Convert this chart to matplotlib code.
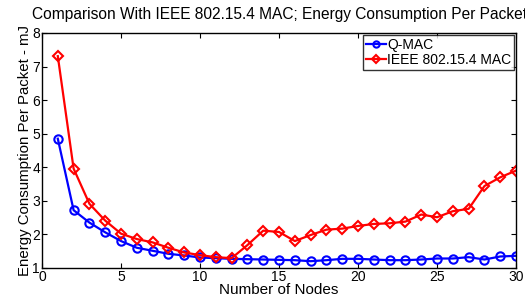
import matplotlib
matplotlib.use("Agg")
import matplotlib.pyplot as plt

nodes = list(range(1, 31))
qmac = [4.85, 2.72, 2.35, 2.06, 1.80, 1.60, 1.51, 1.42, 1.37, 1.31,
        1.29, 1.27, 1.26, 1.25, 1.24, 1.23, 1.20, 1.23, 1.27, 1.27,
        1.25, 1.23, 1.23, 1.25, 1.28, 1.28, 1.32, 1.25, 1.34, 1.36]
ieee = [7.31, 3.96, 2.91, 2.41, 2.02, 1.86, 1.76, 1.60, 1.46, 1.38,
        1.32, 1.29, 1.68, 2.11, 2.07, 1.80, 1.98, 2.14, 2.17, 2.25,
        2.31, 2.33, 2.38, 2.59, 2.51, 2.69, 2.76, 3.44, 3.70, 3.90]

plt.rcParams['font.family'] = ['Liberation Sans', 'DejaVu Sans']

fig = plt.figure(figsize=(5.25, 3.0), dpi=100)
ax = fig.add_axes([0.080, 0.107, 0.903, 0.783])

ax.plot(nodes, qmac, color='blue', marker='o', markersize=6, markerfacecolor='none',
        markeredgewidth=1.5, linewidth=1.6, label='Q-MAC')
ax.plot(nodes, ieee, color='red', marker='D', markersize=5.5, markerfacecolor='none',
        markeredgewidth=1.5, linewidth=1.6, label='IEEE 802.15.4 MAC')

ax.set_xlim(0, 30)
ax.set_ylim(1, 8)
ax.set_xticks([0, 5, 10, 15, 20, 25, 30])
ax.set_yticks([1, 2, 3, 4, 5, 6, 7, 8])
ax.tick_params(direction='in', top=True, right=True, labelsize=10, length=3.5, pad=1.5)
for s in ax.spines.values():
    s.set_linewidth(1.0)

ax.set_xlabel('Number of Nodes', fontsize=11, labelpad=-1)
ax.set_ylabel('Energy Consumption Per Packet - mJ', fontsize=10.8, labelpad=0)
fig.text(32 / 525, 1 - 19 / 300,
         'Comparison With IEEE 802.15.4 MAC; Energy Consumption Per Packet - mJ',
         fontsize=11.2, ha='left', va='baseline')

leg = ax.legend(loc='upper right', fontsize=10, frameon=True, fancybox=False,
                edgecolor='black', borderpad=0.2, labelspacing=0.1,
                handlelength=1.4, handletextpad=0.1, borderaxespad=0.15,
                markerscale=0.75)
leg.get_frame().set_linewidth(1.0)

fig.savefig('out.png', dpi=100)
